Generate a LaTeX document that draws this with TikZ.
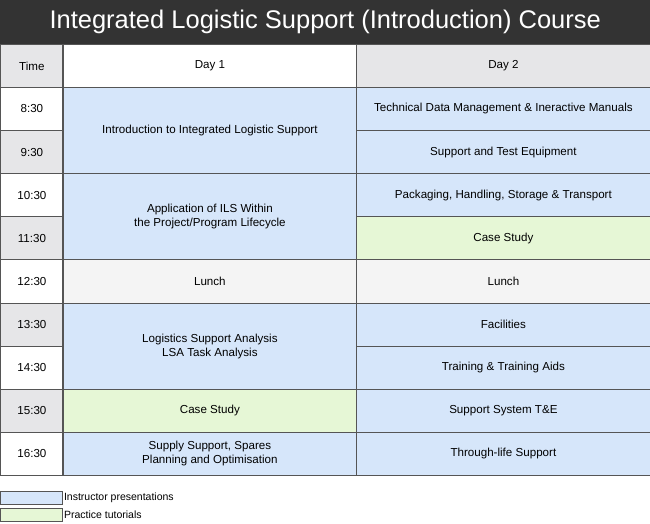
\documentclass[tikz,border=0pt]{standalone}
\usepackage{fontspec}
\setmainfont{Liberation Sans}
\definecolor{blu}{HTML}{D6E6FA}
\definecolor{grn}{HTML}{E6F7D6}
\definecolor{gry}{HTML}{E6E6E8}
\definecolor{lun}{HTML}{F4F4F4}
\definecolor{ttl}{HTML}{333333}
\definecolor{bord}{HTML}{555555}
\begin{document}
\begin{tikzpicture}[x=1pt,y=-1pt,
  cell/.style={draw=bord,line width=0.8pt,inner sep=0pt,anchor=north west,align=center,font=\fontsize{11.6}{14}\selectfont},
  leg/.style={draw=bord,line width=0.8pt,anchor=north west,inner sep=0pt,minimum width=62pt,minimum height=13pt}]
\useasboundingbox (0,0) rectangle (650,523);
\fill[white] (0,0) rectangle (650,523);
\node[fill=ttl,anchor=north west,minimum width=650pt,minimum height=44pt,inner sep=0pt,text=white,font=\fontsize{25.5}{30}\selectfont] (title) at (0,0) {Integrated Logistic Support (Introduction) Course};
% header
\node[cell,fill=gry,minimum width=63pt,minimum height=43pt] (th) at (0,44) {Time};
\node[cell,fill=white,minimum width=293pt,minimum height=43pt] (d1) at (63,44) {Day 1};
\node[cell,fill=gry,minimum width=294pt,minimum height=43pt] (d2) at (356,44) {Day 2};
% time column
\foreach \t [count=\i from 0] in {8:30,9:30,10:30,11:30,12:30,13:30,14:30,15:30,16:30}{
  \pgfmathsetmacro\yy{87+43.1*\i}
  \pgfmathtruncatemacro\odd{mod(\i,2)}
  \ifnum\odd=0 \def\cc{white}\else\def\cc{gry}\fi
  \node[cell,fill=\cc,minimum width=63pt,minimum height=43.1pt] (t\i) at (0,\yy) {\t};
}
% day 1
\node[cell,fill=blu,minimum width=293pt,minimum height=86.2pt] (a1) at (63,87) {Introduction to Integrated Logistic Support};
\node[cell,fill=blu,minimum width=293pt,minimum height=86.2pt] (a2) at (63,173.2) {Application of ILS Within\\the Project/Program Lifecycle};
\node[cell,fill=lun,minimum width=293pt,minimum height=43.1pt] (a3) at (63,259.4) {Lunch};
\node[cell,fill=blu,minimum width=293pt,minimum height=86.2pt] (a4) at (63,302.5) {Logistics Support Analysis\\LSA Task Analysis};
\node[cell,fill=grn,minimum width=293pt,minimum height=43.1pt] (a5) at (63,388.7) {Case Study};
\node[cell,fill=blu,minimum width=293pt,minimum height=43.1pt] (a6) at (63,431.8) {Supply Support, Spares\\Planning and Optimisation};
% day 2
\foreach \txt/\cc [count=\i from 0] in {Technical Data Management \& Ineractive Manuals/blu,Support and Test Equipment/blu,{Packaging, Handling, Storage \& Transport}/blu,Case Study/grn,Lunch/lun,Facilities/blu,Training \& Training Aids/blu,Support System T\&E/blu,Through-life Support/blu}{
  \pgfmathsetmacro\yy{87+43.1*\i}
  \node[cell,fill=\cc,minimum width=294pt,minimum height=43.1pt] (b\i) at (356,\yy) {\txt};
}
\draw[bord,line width=1.6pt] (63,44) -- (63,474.9);
% legend
\node[leg,fill=blu] (l1) at (0,491) {};
\node[leg,fill=grn] (l2) at (0,508) {};
\node[anchor=west,inner sep=1pt,font=\fontsize{10.5}{12}\selectfont] at (l1.east) {Instructor presentations};
\node[anchor=west,inner sep=1pt,font=\fontsize{10.5}{12}\selectfont] at (l2.east) {Practice tutorials};
\end{tikzpicture}
\end{document}
